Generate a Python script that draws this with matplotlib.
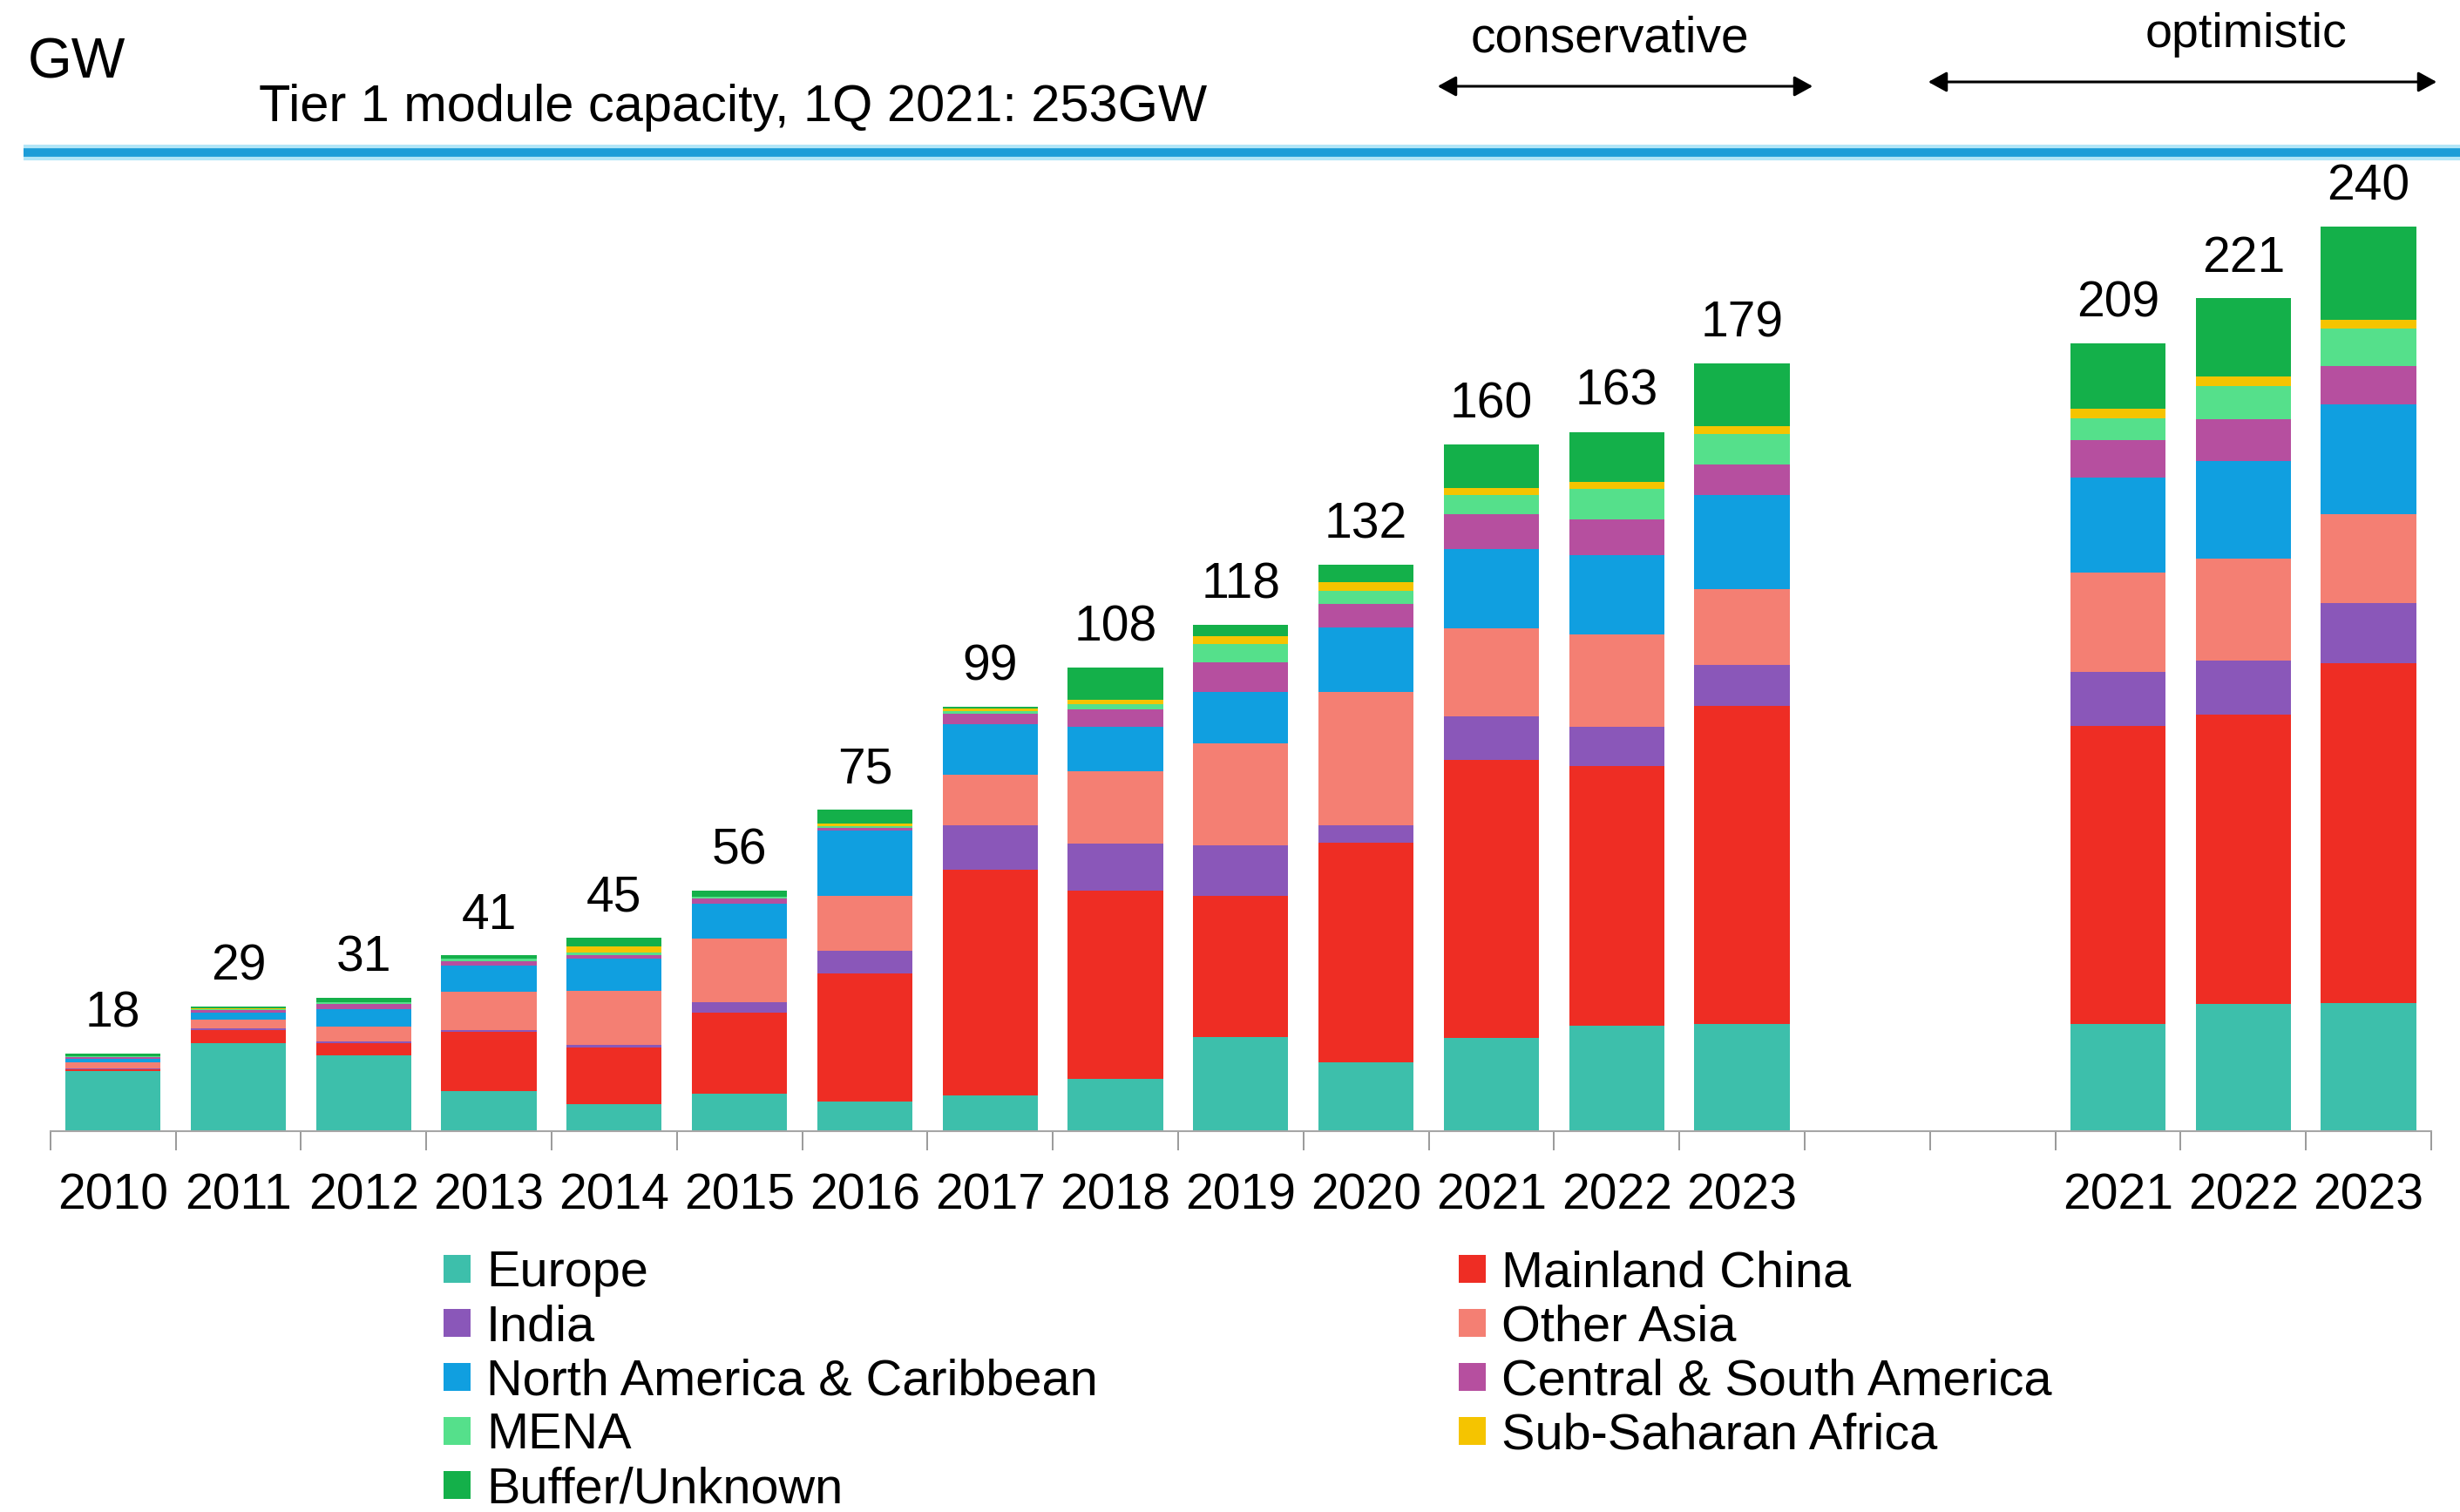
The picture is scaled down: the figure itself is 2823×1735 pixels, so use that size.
import numpy as np
import matplotlib
matplotlib.use("Agg")
import matplotlib.pyplot as plt
from matplotlib.lines import Line2D
from matplotlib.patches import Rectangle, FancyArrowPatch
from matplotlib.ticker import FixedLocator

plt.rcParams['font.family'] = ['Liberation Sans', 'DejaVu Sans']

# Category labels: actuals + conservative outlook, then optimistic outlook
hist_years = ["2010", "2011", "2012", "2013", "2014", "2015", "2016",
              "2017", "2018", "2019", "2020", "2021", "2022", "2023"]
opt_years = ["2021", "2022", "2023"]

# Module capacity by region, GW (14 conservative values followed by 3 optimistic values)
europe     = [14.0, 20.6, 17.6,  9.4,  6.3,  8.8,  6.9,  8.3, 12.1, 22.0, 16.0, 21.8, 24.6, 24.9, 28.5, 33.7, 34.0]
china      = [ 0.5,  3.0,  3.0, 13.8, 13.2, 18.9, 29.9, 52.6, 44.0, 32.8, 51.2, 64.8, 60.5, 74.2, 79.0, 76.8, 90.2]
india      = [ 0.2,  0.4,  0.4,  0.4,  0.6,  2.4,  5.3, 10.3, 11.0, 11.9,  4.0, 10.0,  9.1,  9.5, 14.4, 14.3, 15.9]
other_asia = [ 1.3,  2.0,  3.4,  8.8, 12.6, 14.7, 12.8, 11.8, 16.7, 23.6, 31.2, 20.7, 21.6, 17.7, 26.3, 27.1, 23.5]
n_america  = [ 0.9,  1.6,  4.1,  6.1,  7.5,  8.3, 15.1, 11.8, 10.5, 12.0, 15.0, 18.4, 18.4, 22.0, 25.1, 25.8, 29.2]
cs_america = [ 0.3,  0.6,  1.2,  1.1,  0.9,  1.2,  0.7,  2.5,  4.0,  6.9,  5.5,  8.2,  8.4,  7.1, 10.0, 11.2, 10.1]
mena       = [ 0.2,  0.3,  0.3,  0.6,  0.6,  0.3,  0.3,  0.6,  1.3,  4.4,  3.1,  4.3,  7.1,  7.1,  5.8,  8.9, 10.1]
ss_africa  = [ 0.1,  0.1,  0.1,  0.1,  1.3,  0.1,  0.7,  0.7,  0.9,  1.8,  2.0,  1.8,  1.7,  1.9,  2.6,  2.5,  2.3]
buffer     = [ 0.5,  0.4,  0.9,  0.7,  2.0,  1.3,  3.3,  0.4,  7.5,  2.6,  4.0, 10.0, 11.6, 14.6, 17.3, 20.7, 24.7]

# Stack order, bottom to top
series = [
    ("Europe", europe, "#3dbfab"),
    ("Mainland China", china, "#ee2d24"),
    ("India", india, "#8a57b9"),
    ("Other Asia", other_asia, "#f47f73"),
    ("North America & Caribbean", n_america, "#109fe0"),
    ("Central & South America", cs_america, "#b64f9f"),
    ("MENA", mena, "#55e08b"),
    ("Sub-Saharan Africa", ss_africa, "#f5c400"),
    ("Buffer/Unknown", buffer, "#14b04a"),
]
legend_cols = [
    ["Europe", "India", "North America & Caribbean", "MENA", "Buffer/Unknown"],
    ["Mainland China", "Other Asia", "Central & South America", "Sub-Saharan Africa"],
]

W, H = 2823, 1735
fig = plt.figure(figsize=(W / 100, H / 100), dpi=100)
fig.patch.set_facecolor("white")

base_y = (H - 1298) / H
plot_h = 1100
left_px, split_px, right_px = 57.7, 2358.5, 2790.0
ax1 = fig.add_axes([left_px / W, base_y, (split_px - left_px) / W, plot_h / H])
ax2 = fig.add_axes([split_px / W, base_y, (right_px - split_px) / W, plot_h / H])
ax1.set_ylim(0, plot_h / 4.923)
ax2.set_ylim(0, plot_h / 4.325)

n_hist = len(hist_years)
x_hist = np.arange(n_hist)
x_opt = np.arange(n_hist + 2, n_hist + 2 + len(opt_years))
ax1.set_xlim(-0.5, n_hist + 1.5)
ax2.set_xlim(n_hist + 1.5, x_opt[-1] + 0.5)

bar_w = 0.76
for ax, xs, sl in [(ax1, x_hist, slice(0, n_hist)), (ax2, x_opt, slice(n_hist, None))]:
    bottom = np.zeros(len(xs))
    for name, vals, col in series:
        v = np.array(vals[sl], dtype=float)
        ax.bar(xs, v, bar_w, bottom=bottom, color=col, linewidth=0)
        bottom += v
    for x, tot in zip(xs, bottom):
        ax.annotate(f"{tot:.0f}", xy=(x, tot), xytext=(0, 22), textcoords="offset points",
                    ha="center", va="baseline", fontsize=41, annotation_clip=False)

for ax, xs, labels in [(ax1, x_hist, hist_years), (ax2, x_opt, opt_years)]:
    for s in ["top", "left", "right"]:
        ax.spines[s].set_visible(False)
    ax.spines["bottom"].set_color("#a6a6a6")
    ax.spines["bottom"].set_linewidth(1.5)
    ax.set_yticks([])
    ax.set_xticks(xs)
    ax.set_xticklabels(labels, fontsize=41)
    lo, hi = ax.get_xlim()
    ax.xaxis.set_minor_locator(FixedLocator(np.arange(lo, hi + 0.01, 1.0)))
    ax.tick_params(axis="x", which="major", length=0, pad=34)
    ax.tick_params(axis="x", which="minor", length=16, width=1.4, color="#9a9a9a")
    ax.patch.set_alpha(0)

# Header: unit, capacity note, divider line
fig.text(32 / W, 1 - 90 / H, "GW", fontsize=47, ha="left", va="baseline")
fig.text(297 / W, 1 - 139 / H, "Tier 1 module capacity, 1Q 2021: 253GW",
         fontsize=42.8, ha="left", va="baseline")
line_y = 1 - 175 / H
fig.add_artist(Line2D([27 / W, 1], [line_y, line_y], transform=fig.transFigure,
                      color="#b3e6f7", lw=13, solid_capstyle="butt"))
fig.add_artist(Line2D([27 / W, 1], [line_y, line_y], transform=fig.transFigure,
                      color="#1c9dd8", lw=7, solid_capstyle="butt"))

# Scenario markers
fig.text(1847 / W, 1 - 59 / H, "conservative", fontsize=41, ha="center", va="baseline")
fig.text(2578 / W, 1 - 54 / H, "optimistic", fontsize=40, ha="center", va="baseline")
for x0, x1, yy in [(1647, 2083, 99), (2210, 2799, 94)]:
    fig.add_artist(FancyArrowPatch((x0 / W, 1 - yy / H), (x1 / W, 1 - yy / H),
                                   transform=fig.transFigure,
                                   arrowstyle="<|-|>,head_length=0.4,head_width=0.22",
                                   mutation_scale=32, color="black", lw=2.2))

# Legend
colors = {name: col for name, _, col in series}
col_x = [509, 1674]
for ci, names in enumerate(legend_cols):
    for ri, name in enumerate(names):
        yb = 1476 + 62 * ri
        fig.add_artist(Rectangle((col_x[ci] / W, 1 - (yb - 4) / H), 31 / W, 32 / H,
                                 transform=fig.transFigure, color=colors[name], lw=0))
        fig.text((col_x[ci] + 49) / W, 1 - yb / H, name, fontsize=41.5,
                 ha="left", va="baseline")

fig.savefig("out.png", dpi=100)
